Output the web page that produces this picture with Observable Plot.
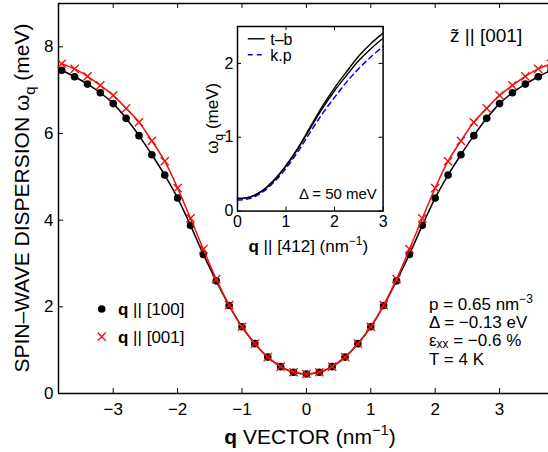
<!DOCTYPE html>
<html>
<head>
<meta charset="utf-8">
<script src="https://cdn.jsdelivr.net/npm/d3@7"></script>
<script src="https://cdn.jsdelivr.net/npm/@observablehq/plot@0.6"></script>
<style>
  body { margin: 0; background: #fff; }
  #fig { position: relative; width: 548px; height: 452px; overflow: hidden;
         font-family: "Liberation Sans", Arial, Helvetica, sans-serif; }
  #fig svg { position: absolute; }
</style>
</head>
<body>
<div id="fig"></div>
<script>
// Spin-wave dispersion along two directions (meV vs nm^-1)
const qValues = [-3.8, -3.6, -3.4, -3.2, -3.0, -2.8, -2.6, -2.4, -2.2, -2.0,
                 -1.8, -1.6, -1.4, -1.2, -1.0, -0.8, -0.6, -0.4, -0.2, 0.0,
                  0.2, 0.4, 0.6, 0.8, 1.0, 1.2, 1.4, 1.6, 1.8, 2.0,
                  2.2, 2.4, 2.6, 2.8, 3.0, 3.2, 3.4, 3.6, 3.8];
const omega100 = [7.46, 7.31, 7.14, 6.94, 6.69, 6.35, 5.95, 5.51, 5.04, 4.51,
                  3.88, 3.21, 2.60, 2.03, 1.54, 1.15, 0.84, 0.62, 0.49, 0.45,
                  0.49, 0.62, 0.84, 1.15, 1.54, 2.03, 2.60, 3.21, 3.88, 4.51,
                  5.04, 5.51, 5.95, 6.35, 6.69, 6.94, 7.14, 7.31, 7.46];
const omega001 = [7.61, 7.49, 7.32, 7.11, 6.88, 6.58, 6.26, 5.83, 5.36, 4.74,
                  4.04, 3.33, 2.64, 2.04, 1.54, 1.15, 0.84, 0.62, 0.49, 0.45,
                  0.49, 0.62, 0.84, 1.15, 1.54, 2.04, 2.64, 3.33, 4.04, 4.74,
                  5.36, 5.83, 6.26, 6.58, 6.88, 7.11, 7.32, 7.49, 7.61];
const mainXTicks = [-3, -2, -1, 0, 1, 2, 3];
const mainYTicks = [0, 2, 4, 6, 8];

// Inset: dispersion along [412], tight-binding vs k.p
const insetQ       = [0, 0.25, 0.5, 0.75, 1.0, 1.25, 1.5, 1.75, 2.0, 2.25, 2.5, 2.75, 3.0];
const tbUpper      = [0.17, 0.19, 0.27, 0.42, 0.62, 0.86, 1.14, 1.42, 1.67, 1.89, 2.10, 2.27, 2.41];
const tbLower      = [0.17, 0.19, 0.27, 0.41, 0.61, 0.85, 1.12, 1.39, 1.63, 1.84, 2.04, 2.20, 2.34];
const kpCurve      = [0.15, 0.17, 0.25, 0.39, 0.58, 0.81, 1.07, 1.32, 1.54, 1.75, 1.93, 2.09, 2.23];
const insetXTicks  = [0, 1, 2, 3];
const insetYTicks  = [0, 1, 2];

const mainRows  = qValues.map((q, i) => ({q, w100: omega100[i], w001: omega001[i]}));
const insetRows = insetQ.map((q, i) => ({q, up: tbUpper[i], lo: tbLower[i], kp: kpCurve[i]}));

const FONT = '"Liberation Sans", Arial, Helvetica, sans-serif';
const RED = "#ee1111";
const minus = d => d < 0 ? "\u2212" + (-d) : String(d);

// ---------- main axes ----------
const W = 548, H = 452, mL = 58, mR = 0, mT = 3, mB = 59;
const fw = W - mL - mR, fh = H - mT - mB, tk = 5;
const main = Plot.plot({
  width: W, height: H,
  marginLeft: mL, marginRight: mR, marginTop: mT, marginBottom: mB,
  style: {fontFamily: FONT, fontSize: "17px", color: "#000", background: "transparent"},
  x: {domain: [-3.85, 3.76], ticks: mainXTicks, tickSize: 0, tickPadding: 9, tickFormat: minus, label: null},
  y: {domain: [0, 9], ticks: mainYTicks, tickSize: 0, tickPadding: 5, tickFormat: minus, label: null},
  marks: [
    Plot.tickX(mainXTicks, {x: d => d, insetTop: fh - tk, stroke: "#000"}),
    Plot.tickX(mainXTicks, {x: d => d, insetBottom: fh - tk, stroke: "#000"}),
    Plot.tickY(mainYTicks, {y: d => d, insetRight: fw - tk, stroke: "#000"}),
    Plot.ruleY([0, 9], {stroke: "#000", strokeWidth: 1.5}),
    Plot.ruleX([-3.85], {stroke: "#000", strokeWidth: 1.5}),
    Plot.line(mainRows, {x: "q", y: "w100", curve: "catmull-rom", stroke: "#000", strokeWidth: 1.5}),
    Plot.dot(mainRows, {x: "q", y: "w100", r: 3.8, fill: "#000", stroke: "none"}),
    Plot.line(mainRows, {x: "q", y: "w001", curve: "catmull-rom", stroke: RED, strokeWidth: 1.5}),
    Plot.dot(mainRows, {x: "q", y: "w001", symbol: "times", r: 3.8, stroke: RED, strokeWidth: 1.4})
  ]
});
main.style.left = "0px"; main.style.top = "0px";

// ---------- inset axes ----------
const iL = 40, iR = 16, iT = 6, iB = 46;
const ifw = 145.6, ifh = 184.6, itk = 4;
const inset = Plot.plot({
  width: iL + ifw + iR, height: iT + ifh + iB,
  marginLeft: iL, marginRight: iR, marginTop: iT, marginBottom: iB,
  style: {fontFamily: FONT, fontSize: "16px", color: "#000", background: "transparent"},
  x: {domain: [0, 3], ticks: insetXTicks, tickSize: 0, tickPadding: 5, tickFormat: minus, label: null},
  y: {domain: [0, 2.5], ticks: insetYTicks, tickSize: 0, tickPadding: 4, tickFormat: minus, label: null},
  marks: [
    Plot.frame({fill: "#fff", stroke: "none"}),
    Plot.tickX(insetXTicks, {x: d => d, insetTop: ifh - itk, stroke: "#000"}),
    Plot.tickX(insetXTicks, {x: d => d, insetBottom: ifh - itk, stroke: "#000"}),
    Plot.tickY(insetYTicks, {y: d => d, insetRight: ifw - itk, stroke: "#000"}),
    Plot.tickY(insetYTicks, {y: d => d, insetLeft: ifw - itk, stroke: "#000"}),
    Plot.line(insetRows, {x: "q", y: "kp", curve: "catmull-rom", stroke: "#0000ee", strokeWidth: 1.5, strokeDasharray: "5,4"}),
    Plot.line(insetRows, {x: "q", y: "up", curve: "catmull-rom", stroke: "#000", strokeWidth: 1.4}),
    Plot.line(insetRows, {x: "q", y: "lo", curve: "catmull-rom", stroke: "#000", strokeWidth: 1.4}),
    Plot.frame({stroke: "#000", strokeWidth: 1.5})
  ]
});
const insetLeft = 236.7 - iL, insetTop = 25.7 - iT;
inset.style.left = insetLeft + "px"; inset.style.top = insetTop + "px";

const fig = document.getElementById("fig");
fig.append(main, inset);

// ---------- rich text (bold, sub- and superscripts) ----------
function rich(svg, {x, y, anchor = "start", size = 17, rotate = 0, fill = "#000", subShift = 0.28}, parts) {
  const t = d3.select(svg).append("text")
    .attr("x", x).attr("y", y).attr("text-anchor", anchor)
    .attr("font-family", FONT).attr("font-size", size).attr("fill", fill);
  if (rotate) t.attr("transform", `rotate(${rotate},${x},${y})`);
  let shift = 0;
  for (const p of parts) {
    const [s, kind] = typeof p === "string" ? [p, null] : p;
    const ts = t.append("tspan").text(s);
    const want = kind === "sup" ? -0.42 * size : kind === "sub" ? subShift * size : 0;
    if (want !== shift) ts.attr("dy", want - shift);
    shift = want;
    if (kind === "b") ts.attr("font-weight", "bold");
    if (kind === "sup" || kind === "sub") ts.attr("font-size", 0.7 * size);
  }
  return t;
}

// axis titles
rich(main, {x: 29, y: mT + fh / 2, anchor: "middle", size: 21, rotate: -90},
     ["SPIN\u2013WAVE DISPERSION \u03c9", ["q", "sub"], " (meV)"]);
rich(main, {x: 310, y: 444, anchor: "middle", size: 21},
     [["q", "b"], " VECTOR (nm", ["\u22121", "sup"], ")"]);

// legend
d3.select(main).append("circle").attr("cx", 101.7).attr("cy", 309).attr("r", 3.8).attr("fill", "#000");
d3.select(main).append("path").attr("transform", "translate(101.7,336.7)")
  .attr("d", d3.symbol(d3.symbolTimes, Math.PI * 3.8 * 3.8)())
  .attr("fill", "none").attr("stroke", RED).attr("stroke-width", 1.4);
rich(main, {x: 118, y: 315}, [["q", "b"], " || [100]"]);
rich(main, {x: 118, y: 342.5}, [["q", "b"], " || [001]"]);

// parameters
rich(main, {x: 450, y: 42, size: 19}, ["z\u0303 || [001]"]);
rich(main, {x: 429, y: 310}, ["p = 0.65 nm", ["\u22123", "sup"]]);
rich(main, {x: 429, y: 328}, ["\u0394 = \u22120.13 eV"]);
rich(main, {x: 429, y: 346, subShift: 0.12}, ["\u03b5", ["xx", "sub"], " = \u22120.6 %"]);
rich(main, {x: 429, y: 364.5}, ["T = 4 K"]);

// inset labels and legend
const ix = v => v - insetLeft, iy = v => v - insetTop;
rich(inset, {x: ix(308), y: iy(252), anchor: "middle", size: 17},
     [["q", "b"], " || [412] (nm", ["\u22121", "sup"], ")"]);
rich(inset, {x: ix(218), y: iy(118), anchor: "middle", size: 17, rotate: -90},
     ["\u03c9", ["q", "sub", "b"], " (meV)"]);
rich(inset, {x: ix(376.5), y: iy(199), anchor: "end", size: 15}, ["\u0394 = 50 meV"]);
d3.select(inset).append("line").attr("x1", ix(247.5)).attr("x2", ix(264.5))
  .attr("y1", iy(38.5)).attr("y2", iy(38.5)).attr("stroke", "#000").attr("stroke-width", 1.4);
d3.select(inset).append("line").attr("x1", ix(247.5)).attr("x2", ix(264.5))
  .attr("y1", iy(54.5)).attr("y2", iy(54.5)).attr("stroke", "#0000ee").attr("stroke-width", 1.5)
  .attr("stroke-dasharray", "5,4");
rich(inset, {x: ix(270), y: iy(44.5), size: 16}, ["t\u2013b"]);
rich(inset, {x: ix(270), y: iy(60.5), size: 16}, ["k.p"]);
</script>
</body>
</html>
